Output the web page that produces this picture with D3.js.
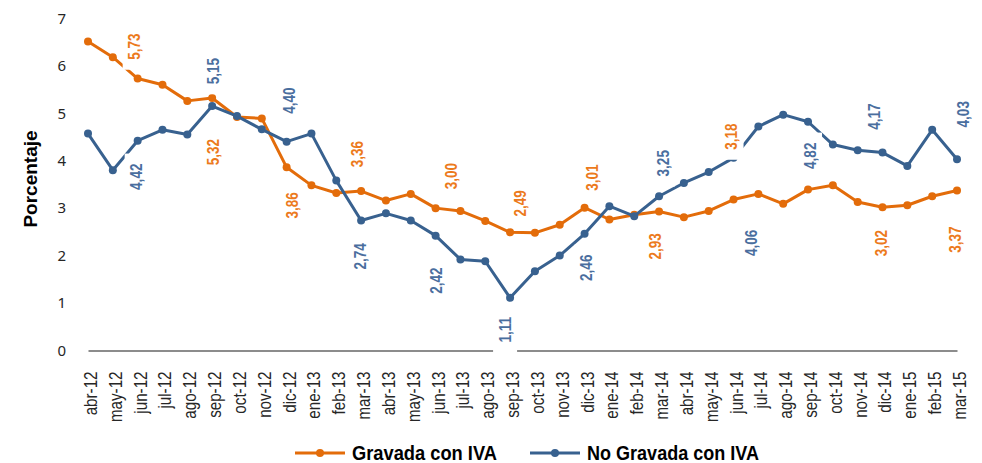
<!DOCTYPE html>
<html>
<head>
<meta charset="utf-8">
<script src="https://cdn.jsdelivr.net/npm/d3@7"></script>
<style>
  body { margin: 0; background: #fff; }
  .narrow { font-family: 'Liberation Sans', Arial, sans-serif; }
</style>
</head>
<body>
<div id="chart"></div>
<script>
// Chart data
const months = ['abr-12', 'may-12', 'jun-12', 'jul-12', 'ago-12', 'sep-12', 'oct-12', 'nov-12', 'dic-12',
  'ene-13', 'feb-13', 'mar-13', 'abr-13', 'may-13', 'jun-13', 'jul-13', 'ago-13', 'sep-13', 'oct-13', 'nov-13', 'dic-13',
  'ene-14', 'feb-14', 'mar-14', 'abr-14', 'may-14', 'jun-14', 'jul-14', 'ago-14', 'sep-14', 'oct-14', 'nov-14', 'dic-14',
  'ene-15', 'feb-15', 'mar-15']

const gravada = [6.51, 6.18, 5.73, 5.60, 5.26, 5.32, 4.92, 4.89, 3.86, 3.48, 3.32, 3.36,
  3.16, 3.30, 3.00, 2.94, 2.73, 2.49, 2.48, 2.65, 3.01, 2.76, 2.86, 2.93,
  2.81, 2.94, 3.18, 3.30, 3.09, 3.39, 3.48, 3.13, 3.02, 3.06, 3.25, 3.37]

const noGravada = [4.57, 3.80, 4.42, 4.65, 4.55, 5.15, 4.94, 4.66, 4.40, 4.57, 3.58, 2.74,
  2.89, 2.74, 2.42, 1.92, 1.88, 1.11, 1.67, 2.00, 2.46, 3.04, 2.83, 3.25,
  3.53, 3.76, 4.06, 4.72, 4.97, 4.82, 4.34, 4.22, 4.17, 3.89, 4.65, 4.03]

const yTicks = [0, 1, 2, 3, 4, 5, 6, 7]

// months that carry a data label, per series
const gravadaLabeled = [2, 5, 8, 11, 14, 17, 20, 23, 26, 32, 35]
const noGravadaLabeled = [2, 5, 8, 11, 14, 17, 20, 23, 26, 29, 32, 35]

const series = [
  { name: 'Gravada con IVA', values: gravada, labeled: gravadaLabeled, color: '#E36C0A', labelColor: '#EC7A1C' },
  { name: 'No Gravada con IVA', values: noGravada, labeled: noGravadaLabeled, color: '#38618F', labelColor: '#4A6E9E' }
]

// label placement (dx, dy from the point), hand tuned like in the original
const labelShift = [
  { 2: [-3, -32], 5: [1, 54], 8: [6, 38], 11: [-4, -37], 14: [16, -32], 17: [10, -29], 20: [8, -30],
    23: [-4, 35], 26: [-2, -63], 32: [-1, 36], 35: [-2, 49] },
  { 2: [-1, 36], 5: [1, -35], 8: [3, -41], 11: [-1, 36], 14: [1, 45], 17: [-5, 32], 20: [2, 34],
    23: [4, -33], 26: [18, 85], 29: [2, 34], 32: [-8, -36], 35: [6, -45] }
]

const width = 982
const height = 463
const squeeze = 0.82 // arial narrow look

const svg = d3.select('#chart')
  .append('svg')
  .attr('width', width)
  .attr('height', height)

const x = d3.scalePoint()
  .domain(months)
  .range([88, 957])

const y = d3.scaleLinear()
  .domain([0, 7])
  .range([350.5, 18.3])

// y axis (labels only)
const yAxis = svg.append('g')
  .attr('transform', 'translate(88,0)')
  .call(d3.axisLeft(y).tickValues(yTicks).tickFormat(d3.format('d')).tickSize(0).tickPadding(22))
yAxis.select('.domain').remove()
yAxis.selectAll('text')
  .style('font-family', "'Noto Sans', sans-serif")
  .style('font-size', '15px')
  .attr('fill', '#262626')

// x axis
const xAxis = svg.append('g')
  .attr('transform', `translate(0,${y(0)})`)
  .call(d3.axisBottom(x).tickSize(0).tickSizeOuter(0))
xAxis.select('.domain')
  .attr('stroke', '#8C8C8C')
  .attr('stroke-width', 2)
xAxis.selectAll('text')
  .attr('class', 'narrow')
  .style('font-size', '18.5px')
  .attr('fill', '#262626')
  .attr('transform', `rotate(-90) scale(${squeeze},1)`)
  .attr('x', -21 / squeeze)
  .attr('y', 2)
  .attr('dy', '0.35em')
  .style('text-anchor', 'end')

// axis title
svg.append('text')
  .attr('transform', 'translate(37,179) rotate(-90)')
  .style('font-family', "'Liberation Sans', Arial, sans-serif")
  .style('font-weight', 'bold')
  .style('font-size', '19px')
  .attr('fill', '#000')
  .attr('text-anchor', 'middle')
  .text('Porcentaje')

// lines and markers
const line = d3.line()
  .x((d, i) => x(months[i]))
  .y(d => y(d))

series.forEach(s => {
  const g = svg.append('g')
  g.append('path')
    .datum(s.values)
    .attr('fill', 'none')
    .attr('stroke', s.color)
    .attr('stroke-width', 3)
    .attr('stroke-linejoin', 'round')
    .attr('d', line)
  g.selectAll('circle')
    .data(s.values)
    .enter()
    .append('circle')
    .attr('cx', (d, i) => x(months[i]))
    .attr('cy', d => y(d))
    .attr('r', 4)
    .attr('fill', s.color)
})

// data labels with white boxes (they hide what is under them)
series.forEach((s, si) => {
  s.labeled.forEach(i => {
    const sh = labelShift[si][i] || [0, -35]
    const lg = svg.append('g')
      .attr('transform', `translate(${x(months[i]) + sh[0]},${y(s.values[i]) + sh[1]}) rotate(-90)`)
    const rect = lg.append('rect').attr('fill', '#fff')
    const t = lg.append('text')
      .attr('class', 'narrow')
      .attr('transform', `scale(${squeeze},1)`)
      .style('font-size', '16.5px')
      .style('font-weight', 'bold')
      .attr('fill', s.labelColor)
      .attr('text-anchor', 'middle')
      .attr('dy', '0.35em')
      .text(s.values[i].toFixed(2).replace('.', ','))
    const len = t.node().getComputedTextLength() * squeeze
    rect.attr('x', -len / 2 - 10)
      .attr('y', -12)
      .attr('width', len + 20)
      .attr('height', 24)
  })
})

// legend
const legend = svg.append('g')
const legendItems = [
  { name: series[0].name, color: series[0].color, x0: 295, w: 145 },
  { name: series[1].name, color: series[1].color, x0: 530, w: 172 }
]
legendItems.forEach(it => {
  legend.append('line')
    .attr('x1', it.x0).attr('x2', it.x0 + 50)
    .attr('y1', 453).attr('y2', 453)
    .attr('stroke', it.color)
    .attr('stroke-width', 3)
  legend.append('circle')
    .attr('cx', it.x0 + 25).attr('cy', 453)
    .attr('r', 4)
    .attr('fill', it.color)
  legend.append('text')
    .attr('class', 'narrow')
    .attr('x', it.x0 + 57)
    .attr('y', 453)
    .attr('dy', '0.35em')
    .attr('textLength', it.w)
    .attr('lengthAdjust', 'spacingAndGlyphs')
    .style('font-size', '21px')
    .style('font-weight', 'bold')
    .attr('fill', '#000')
    .text(it.name)
})
</script>
</body>
</html>
